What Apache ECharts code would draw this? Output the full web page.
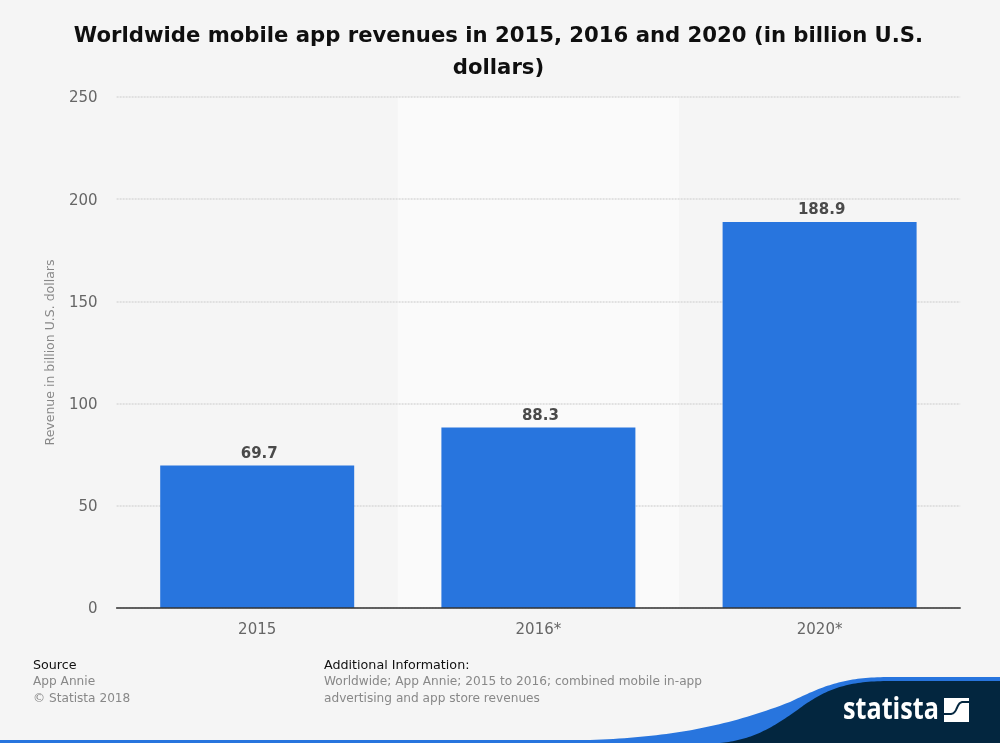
<!DOCTYPE html>
<html><head><meta charset="utf-8">
<style>html,body{margin:0;padding:0;background:#f5f5f5}#c{width:1000px;height:743px}</style>
<script src="https://cdn.jsdelivr.net/npm/echarts@6/dist/echarts.min.js"></script>
</head><body><div id="c"></div>
<script>
const categories = ['2015','2016*','2020*'];
const revenues = [69.7,88.3,188.9];
const yTicks = {min:0,max:250,interval:50};
const F='"DejaVu Sans"';
const chart = echarts.init(document.getElementById('c'),null,{renderer:'canvas'});
function small(x,y,text,color,size){return {type:'text',x:x,y:y,silent:true,style:{text,fill:color,font:`${size||12.15}px ${F}`}};}
function bez(p0,p1,p2,p3){const o=[];for(let i=0;i<=40;i++){const t=i/40,u=1-t;o.push([0,1].map(k=>u*u*u*p0[k]+3*u*u*t*p1[k]+3*u*t*t*p2[k]+t*t*t*p3[k]));}return o;}
const blueEdge=[...bez([590,740],[670,737],[725,727],[790,702]),...bez([790,702],[825,685],[845,677],[890,677])];
const darkEdge=[...bez([720,743],[750,740],[770,730],[800,708]),...bez([800,708],[825,690],[845,681],[890,681])];
const logoStripe=[[944,714],...bez([950,714],[958,714],[956,702],[963,702]),[969,702]];
chart.setOption({
 animation:false,backgroundColor:'#f5f5f5',
 title:{text:'Worldwide mobile app revenues in 2015, 2016 and 2020 (in billion U.S.\ndollars)',left:493.5,textAlign:'center',top:15,
  textStyle:{fontFamily:F,fontSize:21.2,fontWeight:'bold',color:'#0f0f0f',lineHeight:32.5,align:'center'}},
 grid:{left:116.6,right:39.8,top:97,bottom:135},
 xAxis:[{type:'category',data:categories,z:3,
  axisLine:{lineStyle:{color:'#333',width:1.5}},axisTick:{show:false},
  axisLabel:{fontFamily:F,fontSize:15,color:'#666',margin:15}},
  {type:'category',data:categories,z:0,axisLine:{show:false},axisTick:{show:false},axisLabel:{show:false},
  splitArea:{show:true,interval:0,areaStyle:{color:['rgba(0,0,0,0)','#fafafa']}}}],
 yAxis:{type:'value',...yTicks,z:1,name:'Revenue in billion U.S. dollars',nameLocation:'middle',nameGap:59,
  nameTextStyle:{fontFamily:F,fontSize:12.5,color:'#888'},
  axisLine:{show:false},axisTick:{show:false},
  axisLabel:{margin:19,formatter:'{a|{value}}',rich:{a:{fontFamily:F,fontSize:15,color:'#666',padding:[3,0,0,0]}}},
  splitLine:{lineStyle:{color:'#d9d9d9',type:[2,1],width:1.5}}},
 series:[{type:'bar',data:revenues,barWidth:194,itemStyle:{color:'#2875de'},
  label:{show:true,position:'top',distance:4,offset:[2,0],fontFamily:F,fontSize:15,fontWeight:'bold',color:'#4a4a4a',formatter:p=>p.value.toFixed(1)}}],
 graphic:[
  small(33,659,'Source','#111',12.7),
  small(33,676,'App Annie','#888'),
  small(33,692.5,'© Statista 2018','#888'),
  small(324,659,'Additional Information:','#111',12.7),
  small(324,676,'Worldwide; App Annie; 2015 to 2016; combined mobile in-app','#888'),
  small(324,692.5,'advertising and app store revenues','#888'),
  {type:'rect',silent:true,shape:{x:0,y:740,width:1000,height:3},style:{fill:'#2875de'}},
  {type:'polygon',silent:true,shape:{points:[...blueEdge,[1000,677],[1000,743],[590,743]]},style:{fill:'#2875de'}},
  {type:'polygon',silent:true,shape:{points:[...darkEdge,[1000,681],[1000,743]]},style:{fill:'#03263f'}},
  {type:'text',silent:true,x:843,y:695,scaleX:0.84,style:{text:'statista',fill:'#fff',font:'bold 30px "Open Sans"'}},
  {type:'rect',silent:true,shape:{x:944,y:698,width:25,height:24},style:{fill:'#fff'}},
  {type:'polyline',silent:true,shape:{points:logoStripe},style:{fill:'none',stroke:'#03263f',lineWidth:2}}
 ]
});
</script></body></html>
